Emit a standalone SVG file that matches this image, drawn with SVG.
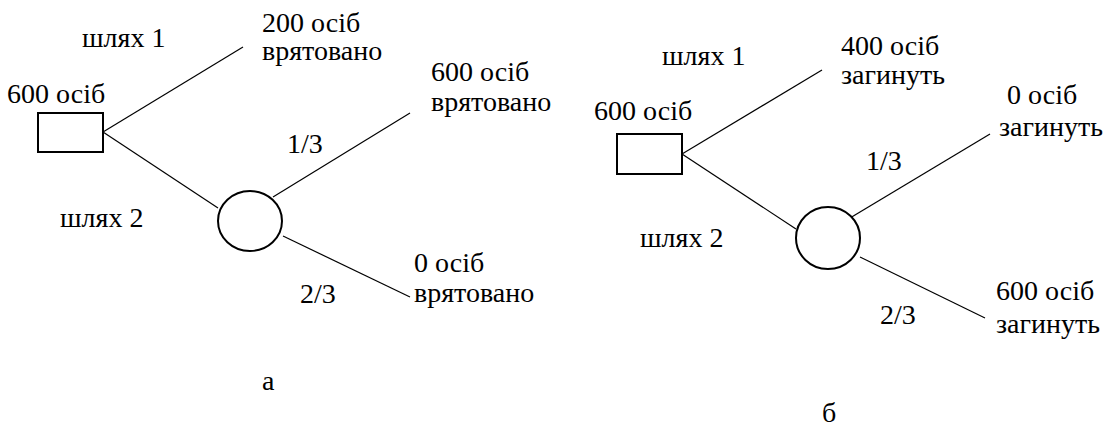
<svg xmlns="http://www.w3.org/2000/svg" width="1119" height="432" viewBox="0 0 1119 432">
  <style>
    text { font-family: "Liberation Serif", "Times New Roman", serif; font-size: 28px; fill: #000; }
    .node { fill: #fff; stroke: #000; stroke-width: 2; }
    .edge { stroke: #000; stroke-width: 1.2; fill: none; }
  </style>
  <rect width="1119" height="432" fill="#fff"/>

  <!-- tree (a): outcomes counted as people saved -->
  <g id="edges-a">
    <line class="edge" x1="103" y1="132" x2="243" y2="47"/>
    <line class="edge" x1="103" y1="132" x2="218" y2="208"/>
    <line class="edge" x1="273" y1="197" x2="410" y2="113"/>
    <line class="edge" x1="283" y1="236" x2="410" y2="297"/>
  </g>
  <g id="decision-a">
    <rect class="node" x="38" y="113" width="65" height="39"/>
    <text x="7" y="103">600 осіб</text>
  </g>
  <g id="chance-a">
    <ellipse class="node" cx="250" cy="221" rx="32" ry="30"/>
  </g>
  <g id="labels-a">
    <text x="82" y="47">шлях 1</text>
    <text x="60" y="227">шлях 2</text>
    <text x="287" y="153">1/3</text>
    <text x="300" y="303">2/3</text>
    <text x="262" y="32">200 осіб</text>
    <text x="262" y="60">врятовано</text>
    <text x="431" y="81">600 осіб</text>
    <text x="431" y="111">врятовано</text>
    <text x="414" y="272">0 осіб</text>
    <text x="414" y="302">врятовано</text>
    <text x="262" y="390">а</text>
  </g>

  <!-- tree (б): outcomes counted as people lost -->
  <g id="edges-b">
    <line class="edge" x1="682" y1="154" x2="822" y2="70"/>
    <line class="edge" x1="682" y1="154" x2="796" y2="229"/>
    <line class="edge" x1="850" y1="218" x2="990" y2="134"/>
    <line class="edge" x1="860" y1="257" x2="985" y2="318"/>
  </g>
  <g id="decision-b">
    <rect class="node" x="617" y="134" width="65" height="40"/>
    <text x="594" y="120">600 осіб</text>
  </g>
  <g id="chance-b">
    <ellipse class="node" cx="828" cy="238" rx="32" ry="31"/>
  </g>
  <g id="labels-b">
    <text x="662" y="65">шлях 1</text>
    <text x="640" y="247">шлях 2</text>
    <text x="866" y="170">1/3</text>
    <text x="880" y="324">2/3</text>
    <text x="841" y="55">400 осіб</text>
    <text x="841" y="84">загинуть</text>
    <text x="1007" y="104">0 осіб</text>
    <text x="999" y="136">загинуть</text>
    <text x="996" y="300">600 осіб</text>
    <text x="996" y="333">загинуть</text>
    <text x="822" y="422">б</text>
  </g>
</svg>
